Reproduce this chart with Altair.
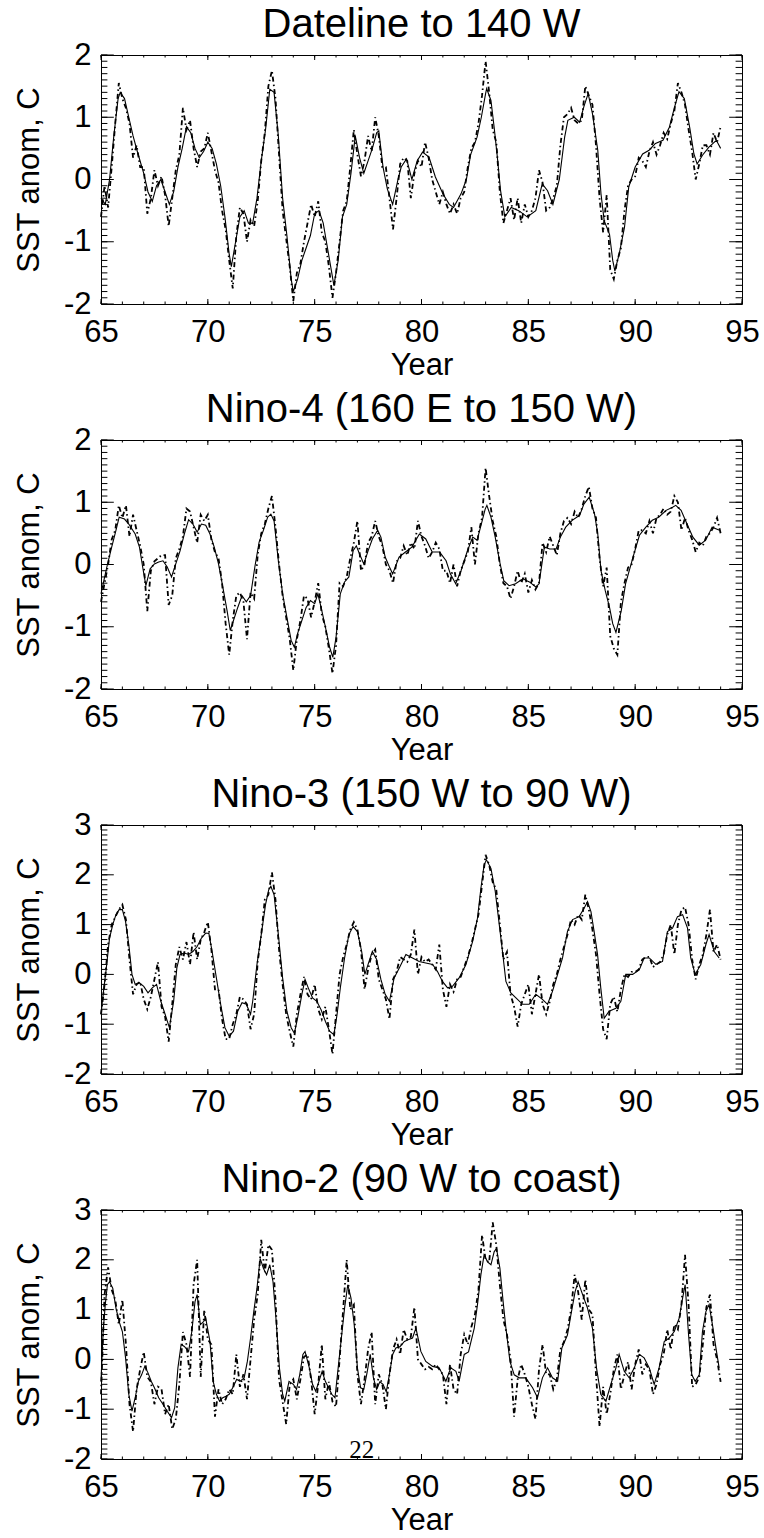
import altair as alt
import pandas as pd

# ---------------- data ----------------
TITLES = ["Dateline to 140 W", "Nino-4 (160 E to 150 W)",
          "Nino-3 (150 W to 90 W)", "Nino-2 (90 W to coast)"]
YEAR_TICKS = [65, 70, 75, 80, 85, 90, 95]
YEAR_MINOR = list(range(65, 96))
Y_DOMAINS = [[-2, 2], [-2, 2], [-2, 3], [-2, 3]]
PAGE_LABEL = ["22"]

# smoothed series (solid line): (year, SST anomaly)
p1_smooth = [(65.0,-0.3),(65.2,-0.4),(65.4,0.0),(65.6,0.7),(65.8,1.3),(65.9,1.4),(66.1,1.3),(66.3,1.0),(66.5,0.7),(66.7,0.45),
 (67.0,0.1),(67.2,-0.2),(67.4,-0.35),(67.6,-0.1),(67.8,0.0),(68.0,-0.2),(68.2,-0.4),(68.4,-0.2),(68.6,0.2),(68.8,0.5),
 (69.0,0.85),(69.2,0.75),(69.4,0.5),(69.6,0.35),(69.8,0.45),(70.0,0.6),(70.2,0.5),(70.4,0.25),(70.6,-0.1),(70.8,-0.6),
 (71.0,-1.2),(71.1,-1.4),(71.3,-1.0),(71.5,-0.6),(71.7,-0.5),(71.9,-0.7),(72.1,-0.7),(72.3,-0.3),(72.5,0.3),(72.7,0.8),
 (72.9,1.45),(73.1,1.4),(73.3,0.7),(73.5,-0.3),(73.7,-0.9),(73.9,-1.6),(74.0,-1.8),(74.2,-1.6),(74.4,-1.3),(74.6,-1.1),
 (74.8,-0.9),(75.0,-0.55),(75.2,-0.5),(75.4,-0.7),(75.6,-1.1),(75.8,-1.5),(75.9,-1.7),(76.1,-1.3),(76.3,-0.6),(76.5,-0.4),
 (76.7,0.1),(76.9,0.7),(77.1,0.35),(77.3,0.1),(77.5,0.3),(77.7,0.5),(77.9,0.75),(78.0,0.78),(78.2,0.2),(78.4,-0.15),
 (78.65,-0.4),(78.9,0.0),(79.05,0.2),(79.3,0.33),(79.55,0.0),(79.8,0.3),(80.05,0.44),(80.35,0.36),(80.65,0.04),(81.0,-0.23),
 (81.3,-0.4),(81.5,-0.45),(81.85,-0.23),(82.1,0.0),(82.3,0.4),(82.6,0.68),(82.8,1.0),(83.0,1.38),(83.05,1.46),(83.25,1.27),
 (83.4,0.84),(83.55,0.36),(83.7,-0.18),(83.9,-0.6),(84.2,-0.45),(84.55,-0.5),(84.95,-0.6),(85.35,-0.5),(85.65,-0.07),(85.9,-0.18),
 (86.15,-0.4),(86.45,0.0),(86.7,0.68),(86.85,0.95),(87.15,1.0),(87.4,0.92),(87.6,1.17),(87.8,1.38),(88.0,1.06),(88.25,0.47),
 (88.4,-0.23),(88.55,-0.66),(88.8,-0.88),(88.95,-1.3),(89.05,-1.47),(89.25,-1.2),(89.5,-0.77),(89.7,-0.12),(90.0,0.2),(90.35,0.41),
 (90.65,0.47),(90.95,0.58),(91.3,0.63),(91.6,0.84),(91.85,1.17),(92.05,1.41),(92.3,1.3),(92.55,0.84),(92.75,0.41),(92.9,0.25),
 (93.15,0.39),(93.45,0.52),(93.8,0.63),(94.0,0.5)]

p2_smooth = [(65.0,-0.47),(65.1,-0.31),(65.3,0.0),(65.5,0.28),(65.7,0.55),(65.85,0.76),(66.1,0.73),(66.3,0.65),(66.6,0.49),(66.8,0.28),
 (66.95,-0.04),(67.1,-0.34),(67.3,-0.07),(67.5,0.01),(67.7,0.04),(67.9,0.06),(68.1,-0.04),(68.3,-0.2),(68.5,0.01),(68.7,0.22),
 (68.9,0.49),(69.1,0.72),(69.3,0.65),(69.5,0.52),(69.7,0.65),(69.9,0.63),(70.1,0.49),(70.3,0.28),(70.5,0.01),(70.7,-0.36),
 (70.9,-0.74),(71.05,-1.06),(71.2,-0.9),(71.4,-0.69),(71.6,-0.5),(71.8,-0.6),(72.0,-0.5),(72.2,-0.04),(72.4,0.36),(72.6,0.55),
 (72.8,0.76),(72.95,0.81),(73.1,0.7),(73.3,0.06),(73.5,-0.47),(73.7,-0.85),(73.9,-1.22),(74.05,-1.33),(74.2,-1.11),(74.4,-0.9),
 (74.6,-0.69),(74.8,-0.58),(75.0,-0.63),(75.15,-0.47),(75.3,-0.69),(75.5,-1.0),(75.7,-1.33),(75.85,-1.49),(76.0,-1.17),(76.2,-0.47),
 (76.4,-0.28),(76.6,-0.2),(76.8,0.22),(76.95,0.3),(77.1,0.17),(77.3,0.01),(77.5,0.22),(77.7,0.41),(77.95,0.55),(78.1,0.44),
 (78.3,0.12),(78.5,-0.04),(78.65,-0.15),(78.95,0.12),(79.25,0.2),(79.55,0.28),(79.9,0.49),(80.2,0.41),(80.5,0.2),(80.85,0.2),
 (81.15,0.06),(81.35,-0.15),(81.6,-0.31),(81.85,-0.1),(82.15,0.22),(82.4,0.44),(82.6,0.39),(82.8,0.65),(82.98,0.89),(83.06,0.95),
 (83.25,0.76),(83.45,0.44),(83.65,0.06),(83.85,-0.26),(84.1,-0.34),(84.4,-0.31),(84.75,-0.23),(85.05,-0.28),(85.35,-0.36),(85.5,-0.31),
 (85.75,0.28),(86.0,0.25),(86.3,0.25),(86.5,0.44),(86.75,0.6),(87.05,0.71),(87.4,0.79),(87.6,0.97),(87.85,1.08),(88.1,0.81),
 (88.25,0.49),(88.4,-0.1),(88.6,-0.42),(88.8,-0.69),(88.95,-0.95),(89.1,-1.09),(89.35,-0.74),(89.55,-0.31),(89.9,0.12),(90.2,0.47),
 (90.5,0.6),(90.8,0.71),(91.1,0.76),(91.45,0.87),(91.75,0.92),(91.9,0.95),(92.15,0.87),(92.35,0.71),(92.7,0.44),(93.0,0.31),
 (93.3,0.39),(93.6,0.6),(93.95,0.55)]

p3_smooth = [(65.0,-0.8),(65.1,-0.4),(65.25,0.13),(65.4,0.73),(65.55,1.0),(65.7,1.2),(65.85,1.3),(66.0,1.3),(66.15,1.06),(66.3,0.6),
 (66.45,0.0),(66.6,-0.2),(66.8,-0.17),(67.0,-0.24),(67.2,-0.37),(67.4,-0.27),(67.6,-0.2),(67.8,-0.54),(68.0,-0.8),(68.2,-1.07),
 (68.4,-0.54),(68.55,0.13),(68.7,0.4),(68.9,0.43),(69.1,0.4),(69.3,0.46),(69.5,0.56),(69.7,0.73),(69.9,0.83),(70.05,0.82),
 (70.2,0.46),(70.4,-0.07),(70.6,-0.6),(70.8,-1.07),(71.0,-1.24),(71.2,-1.14),(71.4,-0.74),(71.6,-0.57),(71.8,-0.6),(72.0,-0.8),
 (72.1,-0.54),(72.3,0.2),(72.5,0.8),(72.7,1.4),(72.85,1.7),(72.95,1.77),(73.1,1.6),(73.3,0.8),(73.5,-0.07),(73.7,-0.74),
 (73.9,-1.07),(74.05,-1.18),(74.2,-0.88),(74.4,-0.4),(74.55,-0.1),(74.7,-0.27),(74.9,-0.47),(75.1,-0.54),(75.3,-0.71),(75.5,-0.94),
 (75.7,-1.14),(75.9,-1.21),(76.05,-0.8),(76.2,-0.27),(76.4,0.33),(76.6,0.8),(76.8,0.96),(77.0,0.86),(77.2,0.46),(77.35,0.0),
 (77.5,0.2),(77.7,0.46),(77.9,0.3),(78.1,-0.1),(78.3,-0.4),(78.5,-0.54),(78.72,-0.07),(78.96,0.13),(79.27,0.4),(79.58,0.33),
 (79.89,0.26),(80.2,0.23),(80.52,0.2),(80.75,0.06),(80.98,-0.14),(81.22,-0.27),(81.45,-0.24),(81.76,-0.07),(82.08,0.2),(82.39,0.66),
 (82.62,1.13),(82.78,1.73),(82.93,2.2),(83.04,2.3),(83.25,2.13),(83.45,1.67),(83.64,1.0),(83.79,0.46),(83.95,-0.14),(84.18,-0.37),
 (84.42,-0.47),(84.73,-0.6),(85.04,-0.6),(85.35,-0.4),(85.66,-0.5),(85.9,-0.6),(86.13,-0.34),(86.37,0.0),(86.6,0.33),(86.83,0.86),
 (87.07,1.1),(87.38,1.16),(87.61,1.33),(87.77,1.46),(87.93,1.26),(88.08,0.86),(88.24,0.4),(88.39,-0.27),(88.55,-0.88),(88.78,-0.74),
 (89.1,-0.68),(89.33,-0.54),(89.56,0.0),(89.88,0.0),(90.19,0.09),(90.42,0.33),(90.66,0.33),(90.97,0.2),(91.28,0.26),(91.51,0.86),
 (91.75,0.93),(91.98,1.16),(92.22,1.2),(92.45,0.93),(92.6,0.33),(92.81,0.0),(93.07,0.2),(93.31,0.6),(93.46,0.8),(93.7,0.46),
 (93.93,0.33)]

p4_smooth = [(65.0,-0.44),(65.1,0.56),(65.2,1.1),(65.3,1.5),(65.4,1.56),(65.55,1.43),(65.7,1.03),(65.85,0.76),(66.0,0.56),(66.15,0.03),
 (66.3,-0.7),(66.45,-1.04),(66.6,-0.77),(66.75,-0.44),(66.9,-0.31),(67.05,-0.14),(67.2,-0.27),(67.35,-0.44),(67.5,-0.57),(67.7,-0.77),
 (67.9,-0.9),(68.1,-1.04),(68.3,-1.17),(68.45,-0.97),(68.6,-0.17),(68.75,0.3),(68.9,0.26),(69.1,0.16),(69.25,0.56),(69.4,1.16),
 (69.5,1.3),(69.65,0.7),(69.8,0.76),(69.9,0.83),(70.1,0.36),(70.25,-0.44),(70.4,-0.7),(70.55,-0.84),(70.7,-0.77),(70.85,-0.74),
 (71.0,-0.7),(71.2,-0.54),(71.35,-0.4),(71.5,-0.44),(71.7,-0.37),(71.85,-0.04),(72.0,0.43),(72.15,0.96),(72.3,1.43),(72.45,2.03),
 (72.6,1.83),(72.75,1.7),(72.9,1.9),(73.05,1.56),(73.2,0.76),(73.35,-0.17),(73.5,-0.7),(73.6,-0.84),(73.8,-0.44),(74.0,-0.5),
 (74.15,-0.6),(74.3,-0.31),(74.45,0.1),(74.55,0.16),(74.75,-0.17),(74.9,-0.5),(75.05,-0.64),(75.2,-0.44),(75.35,-0.24),(75.5,-0.44),
 (75.65,-0.57),(75.8,-0.7),(75.95,-0.77),(76.1,-0.17),(76.25,0.43),(76.4,1.03),(76.55,1.5),(76.7,1.23),(76.85,0.7),(77.0,-0.17),
 (77.15,-0.57),(77.3,-0.6),(77.45,-0.27),(77.6,0.1),(77.75,-0.37),(77.9,-0.6),(78.05,-0.45),(78.2,-0.5),(78.35,-0.65),(78.5,-0.3),
 (78.65,0.1),(78.8,0.23),(79.0,0.26),(79.2,0.36),(79.4,0.4),(79.58,0.43),(79.74,0.63),(79.97,0.16),(80.2,-0.04),(80.52,-0.14),
 (80.83,-0.17),(81.14,-0.44),(81.37,-0.17),(81.61,-0.24),(81.76,-0.44),(82.0,0.1),(82.2,0.15),(82.47,0.63),(82.62,1.1),(82.78,1.7),
 (82.93,2.1),(83.09,1.96),(83.25,1.9),(83.4,2.16),(83.51,2.23),(83.67,1.83),(83.82,1.16),(83.95,0.63),(84.14,-0.04),(84.34,-0.31),
 (84.57,-0.37),(84.88,-0.37),(85.2,-0.57),(85.43,-0.77),(85.66,-0.37),(85.9,-0.17),(86.13,-0.37),(86.37,-0.44),(86.57,0.23),(86.83,0.49),
 (86.99,0.89),(87.19,1.36),(87.33,1.56),(87.54,1.3),(87.77,1.03),(88.0,0.63),(88.19,-0.17),(88.39,-0.7),(88.63,-0.84),(88.86,-0.5),
 (89.1,-0.17),(89.25,0.1),(89.49,-0.24),(89.72,-0.37),(89.96,-0.17),(90.19,0.1),(90.42,0.03),(90.66,-0.17),(90.89,-0.5),(91.12,-0.17),
 (91.36,0.36),(91.59,0.43),(91.83,0.56),(92.06,0.83),(92.22,1.23),(92.34,1.5),(92.5,0.49),(92.65,-0.31),(92.81,-0.44),(93.0,-0.31),
 (93.15,0.56),(93.31,0.96),(93.46,1.1),(93.62,0.69),(93.78,0.23),(93.93,-0.17)]

# raw series (dash-dot line), every two months from 1965.0 to 1994.0
RAW_START, RAW_PER_YEAR = 65.0, 6
p1_raw = [-0.6,-0.1,-0.45,0.2,0.9,1.55, 1.3,1.15,0.9,0.35,0.55,0.2, 0.2,-0.55,-0.3,0.15,-0.1,0.05,
 -0.25,-0.75,-0.3,0.15,0.4,1.15, 0.8,0.95,0.5,0.2,0.45,0.5, 0.75,0.45,0.15,-0.05,-0.5,-0.8,
 -1.3,-1.75,-0.9,-0.45,-0.55,-1.0, -0.65,-0.75,-0.35,0.3,0.75,1.5, 1.75,1.3,0.4,-0.5,-0.95,-1.4,
 -1.95,-1.5,-1.35,-1.0,-0.7,-0.4, -0.6,-0.35,-0.85,-1.0,-1.4,-1.9, -1.5,-1.0,-0.5,-0.35,0.2,0.8,
 0.4,0.05,0.3,0.7,0.45,1.0, 0.7,0.2,0.2,-0.3,-0.8,-0.3, 0.25,0.35,0.3,-0.3,0.1,0.3,
 0.2,0.6,0.35,0.0,-0.2,-0.4, -0.2,-0.4,-0.55,-0.4,-0.55,-0.3, -0.2,0.2,0.5,0.6,0.9,1.35,
 1.9,1.4,0.8,0.6,-0.2,-0.7, -0.5,-0.3,-0.65,-0.3,-0.7,-0.4, -0.6,-0.5,-0.3,0.15,-0.05,-0.5,
 -0.45,-0.3,-0.1,0.55,1.0,1.05, 1.15,0.95,0.9,0.95,1.5,1.35, 1.2,0.55,-0.3,-0.85,-0.25,-1.45,
 -1.6,-1.3,-1.1,-0.5,-0.1,0.0, 0.05,0.35,0.3,0.2,0.45,0.6, 0.4,0.55,0.75,0.65,0.9,1.1,
 1.55,1.4,1.2,0.8,0.45,0.0, 0.25,0.55,0.55,0.4,0.75,0.6, 0.85]

p2_raw = [-0.6,-0.3,0.0,0.4,0.55,0.95, 0.75,0.95,0.45,0.8,0.55,0.3, 0.0,-0.75,-0.1,0.05,0.1,0.15,
 0.15,-0.65,-0.5,0.1,0.25,0.45, 0.9,0.85,0.6,0.35,0.8,0.7, 0.8,0.4,0.2,0.1,-0.3,-0.95,
 -1.45,-0.9,-0.5,-0.45,-0.6,-1.2, -0.45,-0.55,0.15,0.5,0.65,0.9, 1.1,0.6,0.0,-0.5,-0.85,-1.2,
 -1.7,-1.2,-0.9,-0.5,-0.55,-0.85, -0.6,-0.3,-0.8,-1.0,-1.35,-1.75, -1.3,-0.3,-0.35,-0.2,0.1,0.35,
 0.7,-0.1,0.0,0.35,0.45,0.7, 0.45,0.3,0.0,-0.1,-0.3,0.05, 0.1,0.3,0.15,0.35,0.25,0.7,
 0.45,0.3,0.1,0.2,0.35,0.25, -0.1,-0.1,-0.3,0.0,-0.35,-0.1, 0.05,0.2,0.6,0.0,0.5,0.75,
 1.55,1.1,0.7,0.45,0.0,-0.3, -0.35,-0.55,-0.35,-0.1,-0.3,-0.15, -0.45,-0.25,-0.4,-0.3,0.35,0.2,
 0.45,0.3,0.15,0.5,0.7,0.75, 0.65,0.85,0.75,0.9,1.1,1.25, 0.9,0.75,0.1,-0.35,-0.05,-1.15,
 -1.35,-1.45,-0.6,-0.3,-0.05,0.0, 0.25,0.55,0.55,0.5,0.7,0.5, 0.75,0.8,0.9,0.8,0.85,1.1,
 1.0,0.55,0.75,0.55,0.4,0.2, 0.35,0.3,0.45,0.5,0.6,0.75, 0.5]

p3_raw = [-0.8,-0.2,0.6,1.0,1.15,1.3, 1.4,1.1,0.3,-0.4,-0.2,-0.15, -0.5,-0.7,-0.45,-0.1,0.25,-0.65,
 -0.85,-1.35,-0.6,0.2,0.55,0.3, 0.65,0.2,0.85,0.3,0.7,0.85, 1.05,0.5,-0.3,-0.3,-0.9,-1.3,
 -1.3,-1.0,-0.8,-0.45,-0.5,-0.6, -1.1,-0.8,0.25,0.8,1.5,1.6, 2.05,1.5,0.5,-0.2,-0.8,-1.15,
 -1.45,-0.8,-0.4,-0.05,-0.4,-0.5, -0.2,-0.7,-0.9,-0.65,-1.1,-1.6, -0.8,0.0,0.35,0.6,0.9,1.05,
 0.9,0.5,-0.3,0.1,0.4,0.5, -0.1,-0.3,-0.5,-0.9,-0.1,0.05, 0.35,0.3,0.25,0.4,0.9,0.0,
 0.35,0.25,0.3,0.2,0.1,0.6, -0.3,-0.65,-0.2,-0.35,-0.1,-0.05, 0.15,0.35,0.6,0.9,1.2,1.8,
 2.4,2.2,1.85,1.7,1.0,0.3, 0.45,-0.4,-0.65,-1.05,-0.6,-0.4, -0.2,-0.8,-0.4,0.0,-0.6,-0.8,
 -0.55,-0.2,0.0,0.3,0.55,0.8, 1.1,1.0,1.2,1.1,1.6,1.3, 0.9,0.4,-0.4,-1.1,-1.3,-0.6,
 -0.45,-0.75,-0.3,0.0,-0.05,0.05, 0.05,0.1,0.3,0.35,0.35,0.15, 0.2,0.25,0.4,0.8,1.0,0.4,
 1.0,1.3,1.35,1.0,0.3,-0.1, 0.2,0.4,0.8,1.3,0.45,0.6, 0.3]

p4_raw = [-0.7,1.3,1.85,1.4,1.2,0.7, 1.2,0.3,-0.9,-1.45,-0.6,-0.2, 0.15,-0.35,-0.45,-0.9,-0.55,-0.6,
 -1.1,-0.9,-1.4,-1.2,-0.5,0.55, 0.3,-0.35,1.5,2.0,-0.35,1.0, 0.4,0.3,-1.15,-0.6,-0.9,-0.8,
 -0.6,-0.7,0.1,-0.55,-0.3,-0.8, 0.0,0.8,1.3,2.4,1.75,2.3, 2.2,1.2,-0.4,-0.85,-1.3,-0.5,
 -0.4,-0.8,-0.4,0.05,0.1,-0.4, -1.1,-0.5,0.3,-0.8,-0.45,-0.85, -0.95,0.0,1.0,2.0,1.0,1.1,
 -0.3,-0.9,-0.4,0.2,0.55,-0.9, -0.3,-0.5,-1.0,-0.3,0.2,0.4, 0.1,0.6,0.4,0.45,1.05,0.0,
 -0.1,-0.2,-0.15,-0.2,-0.1,-0.2, -0.3,-0.9,-0.1,-0.6,-0.7,0.1, 0.5,0.3,0.65,0.9,1.4,2.5,
 2.0,1.95,2.75,2.3,1.5,0.8, 0.5,0.0,-1.15,-0.4,-0.1,-0.3, -0.55,-0.9,-1.2,-0.2,0.3,-0.3,
 -0.3,-0.6,-0.4,0.2,0.35,0.6, 1.0,1.7,1.35,0.8,1.6,1.0, 0.9,-0.3,-1.35,-0.55,-1.1,-0.7,
 -0.2,0.1,-0.6,-0.3,-0.05,-0.6, -0.1,0.2,-0.3,-0.1,-0.2,-0.7, -0.5,-0.1,0.1,0.6,0.2,0.7,
 0.6,1.1,2.1,1.1,-0.55,-0.5, -0.35,0.3,1.05,1.3,0.3,0.0, -0.45]

SMOOTH = [p1_smooth, p2_smooth, p3_smooth, p4_smooth]
RAW = [p1_raw, p2_raw, p3_raw, p4_raw]

# ---------------- layout / style ----------------
W, H = 641, 249
FONT = "Liberation Sans"
LABEL_FS = 31
TITLE_FS = 40
X_MAJOR_LEN, X_MINOR_LEN = 5, 2.5
Y_MAJOR_LEN, Y_MINOR_LEN = 12.8, 6.4


def make_panel(i):
    ydom = Y_DOMAINS[i]
    smooth = pd.DataFrame(SMOOTH[i], columns=["year", "anom"])
    raw = pd.DataFrame({"year": [RAW_START + k / RAW_PER_YEAR for k in range(len(RAW[i]))],
                        "anom": RAW[i]})
    ymaj = list(range(ydom[0], ydom[1] + 1))
    ymin = [round(ydom[0] + 0.1 * k, 1) for k in range(int(round((ydom[1] - ydom[0]) * 10)) + 1)]

    def xs():
        return alt.Scale(domain=[65, 95], nice=False, zero=False)

    def ys():
        return alt.Scale(domain=ydom, nice=False, zero=False)

    label_x = alt.Axis(orient="bottom", values=YEAR_TICKS, labelExpr="toString(datum.value)",
                       ticks=False, tickSize=0, domain=False, grid=False,
                       labelFontSize=LABEL_FS, labelPadding=13, labelFlush=False,
                       labelOverlap=False, labelColor="black",
                       title="Year", titleFontSize=LABEL_FS, titleFontWeight="normal",
                       titlePadding=3, titleColor="black")
    label_y = alt.Axis(orient="left", values=ymaj, labelExpr="toString(datum.value)",
                       ticks=False, tickSize=0, domain=False, grid=False,
                       labelFontSize=LABEL_FS, labelPadding=10, labelFlush=False,
                       labelOverlap=False, labelColor="black",
                       title="SST anom, C", titleFontSize=LABEL_FS, titleFontWeight="normal",
                       titlePadding=18, titleColor="black")

    smooth_line = alt.Chart(smooth).mark_line(color="black", strokeWidth=1.1).encode(
        x=alt.X("year:Q", scale=xs(), axis=label_x),
        y=alt.Y("anom:Q", scale=ys(), axis=label_y))
    raw_line = alt.Chart(raw).mark_line(color="black", strokeWidth=1.8,
                                        strokeDash=[5, 3, 1.5, 3]).encode(
        x=alt.X("year:Q", scale=xs(), axis=None),
        y=alt.Y("anom:Q", scale=ys(), axis=None))

    # inward ticks on all four sides of the frame
    def x_ticks(values, edge, length):
        return alt.Chart(pd.DataFrame({"year": values})).mark_rule(
            color="black", strokeWidth=1, y2Offset=length).encode(
            x=alt.X("year:Q", scale=xs(), axis=None),
            y=alt.YDatum(edge, scale=ys(), axis=None),
            y2=alt.Y2Datum(edge))

    def y_ticks(values, edge, length):
        return alt.Chart(pd.DataFrame({"anom": values})).mark_rule(
            color="black", strokeWidth=1, x2Offset=length).encode(
            y=alt.Y("anom:Q", scale=ys(), axis=None),
            x=alt.XDatum(edge, scale=xs(), axis=None),
            x2=alt.X2Datum(edge))

    ticks = [
        x_ticks(YEAR_TICKS, ydom[0], -X_MAJOR_LEN), x_ticks(YEAR_MINOR, ydom[0], -X_MINOR_LEN),
        x_ticks(YEAR_TICKS, ydom[1], X_MAJOR_LEN), x_ticks(YEAR_MINOR, ydom[1], X_MINOR_LEN),
        y_ticks(ymaj, 65, Y_MAJOR_LEN), y_ticks(ymin, 65, Y_MINOR_LEN),
        y_ticks(ymaj, 95, -Y_MAJOR_LEN), y_ticks(ymin, 95, -Y_MINOR_LEN),
    ]
    layers = [smooth_line, raw_line] + ticks

    if i == 3:
        page = alt.Chart(pd.DataFrame({"t": PAGE_LABEL})).mark_text(
            font="Liberation Serif", fontSize=25, color="black", baseline="alphabetic", dy=-1
        ).encode(
            x=alt.XDatum(77.2, scale=xs(), axis=None),
            y=alt.YDatum(ydom[0], scale=ys(), axis=None),
            text="t:N")
        layers.append(page)

    return alt.layer(*layers).resolve_scale(x="independent", y="independent").properties(
        width=W, height=H,
        title=alt.Title(TITLES[i], fontSize=TITLE_FS, font=FONT, fontWeight="normal",
                        color="black", anchor="middle", offset=0, dy=6, frame="group"))


chart = alt.vconcat(*[make_panel(i) for i in range(4)], spacing=136, bounds="flush").properties(
    padding={"left": 12, "top": 4, "right": 0, "bottom": 0}
).configure(font=FONT).configure_view(stroke="black", strokeWidth=1)

chart.save("out.html", embed_options={"renderer": "svg", "actions": False})
